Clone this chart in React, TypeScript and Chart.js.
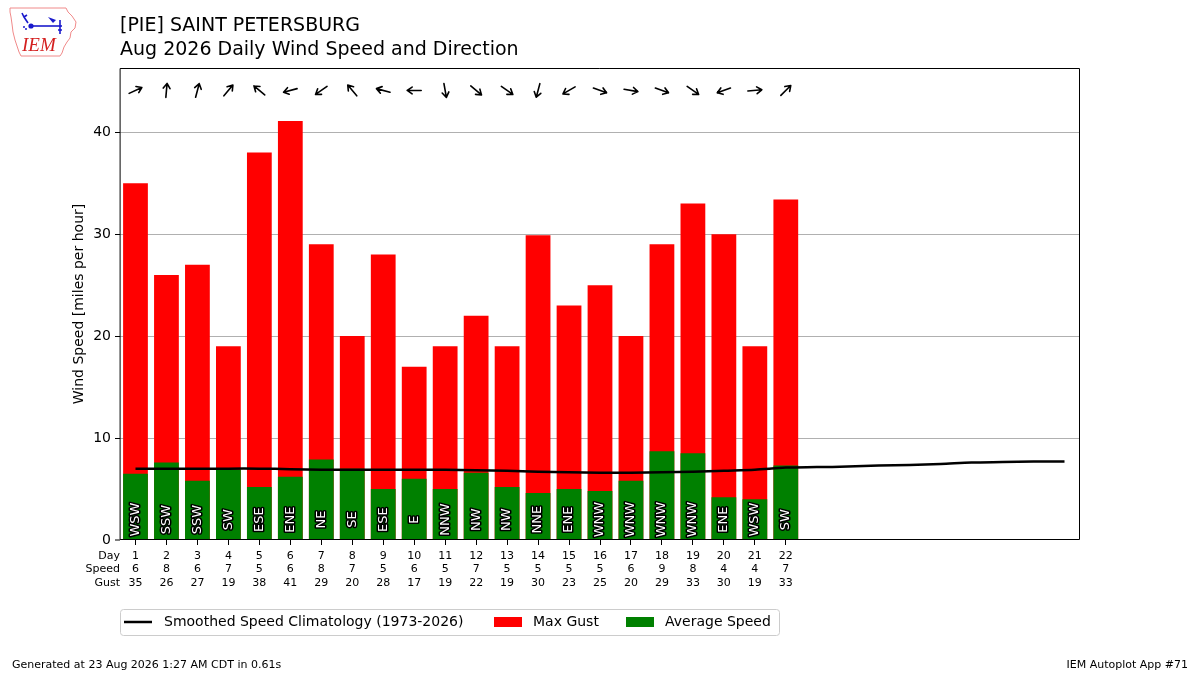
import { useEffect, useRef } from "react";
import { Chart, registerables } from "chart.js";

Chart.register(...registerables);

const FONT = "'DejaVu Sans', 'Liberation Sans', sans-serif";

const days = [1, 2, 3, 4, 5, 6, 7, 8, 9, 10, 11, 12, 13, 14, 15, 16, 17, 18, 19, 20, 21, 22];
const avgSpeed = [6.5, 7.6, 5.8, 6.9, 5.2, 6.2, 7.9, 7.0, 5.0, 6.0, 5.0, 6.6, 5.2, 4.6, 5.0, 4.8, 5.8, 8.7, 8.5, 4.2, 4.0, 7.3];
const maxGust = [35, 26, 27, 19, 38, 41.1, 29, 20, 28, 17, 19, 22, 19, 29.9, 23, 25, 20, 29, 33, 30, 19, 33.4];
const speedLabels = ["6", "8", "6", "7", "5", "6", "8", "7", "5", "6", "5", "7", "5", "5", "5", "5", "6", "9", "8", "4", "4", "7"];
const gustLabels = ["35", "26", "27", "19", "38", "41", "29", "20", "28", "17", "19", "22", "19", "30", "23", "25", "20", "29", "33", "30", "19", "33"];
const dirText = ["WSW", "SSW", "SSW", "SW", "ESE", "ENE", "NE", "SE", "ESE", "E", "NNW", "NW", "NW", "NNE", "ENE", "WNW", "WNW", "WNW", "WNW", "ENE", "WSW", "SW"];
// vector-average direction the wind blew from (degrees, meteorological)
const vecDirFrom = [245, 185, 195, 220, 130, 75, 55, 140, 105, 90, 350, 310, 305, 15, 60, 290, 280, 290, 305, 70, 265, 225];

const climoDays = [1, 2, 3, 4, 5, 6, 7, 8, 9, 10, 11, 12, 13, 14, 15, 16, 17, 18, 19, 20, 21, 22, 23, 24, 25, 26, 27, 28, 29, 30, 31];
const climoSpeed = [7.0, 7.0, 7.0, 7.0, 7.0, 6.95, 6.9, 6.9, 6.9, 6.9, 6.9, 6.85, 6.8, 6.7, 6.65, 6.6, 6.6, 6.65, 6.7, 6.8, 6.9, 7.1, 7.15, 7.2, 7.3, 7.35, 7.45, 7.6, 7.65, 7.7, 7.7];

const rowLabels = ["Day", "Speed", "Gust"];
const titleLines = ["[PIE] SAINT PETERSBURG", "Aug 2026 Daily Wind Speed and Direction"];
const yTitle = "Wind Speed [miles per hour]";
const footerLeft = "Generated at 23 Aug 2026 1:27 AM CDT in 0.61s";
const footerRight = "IEM Autoplot App #71";
const legendItems = [
  { label: "Smoothed Speed Climatology (1973-2026)", kind: "line", color: "#000000" },
  { label: "Max Gust", kind: "box", color: "#ff0000" },
  { label: "Average Speed", kind: "box", color: "#008000" },
];

const TICK_LH = 13.6;
const TICK_PAD = 4;
const TICK_LEN = 5;

function drawLogo(ctx: CanvasRenderingContext2D) {
  ctx.save();
  const pts = [
    [10, 8], [66, 8], [68, 12], [72, 16], [76, 22], [75, 28], [71, 32], [70, 38], [67, 42],
    [64, 47], [62, 53], [60, 56], [21, 56], [19, 52], [17, 46], [15, 40], [13, 32], [12, 24], [11, 17], [10, 12],
  ];
  ctx.beginPath();
  pts.forEach(([px, py], i) => (i === 0 ? ctx.moveTo(px, py) : ctx.lineTo(px, py)));
  ctx.closePath();
  ctx.strokeStyle = "#f08a8a";
  ctx.lineWidth = 1;
  ctx.stroke();
  ctx.strokeStyle = "#1a1acc";
  ctx.fillStyle = "#1a1acc";
  ctx.lineWidth = 1.6;
  ctx.beginPath();
  ctx.moveTo(31, 26);
  ctx.lineTo(62, 26);
  ctx.stroke();
  ctx.beginPath();
  ctx.arc(31, 26, 2.6, 0, Math.PI * 2);
  ctx.fill();
  ctx.beginPath();
  ctx.moveTo(28, 23);
  ctx.lineTo(24, 17);
  ctx.lineTo(22, 13);
  ctx.moveTo(24, 17);
  ctx.lineTo(27, 15);
  ctx.stroke();
  ctx.beginPath();
  ctx.moveTo(48, 17);
  ctx.lineTo(56, 20);
  ctx.lineTo(53, 23);
  ctx.closePath();
  ctx.fill();
  ctx.beginPath();
  ctx.moveTo(60, 20);
  ctx.lineTo(60, 34);
  ctx.moveTo(58, 30);
  ctx.lineTo(62, 30);
  ctx.stroke();
  ctx.beginPath();
  ctx.arc(24, 27, 1, 0, Math.PI * 2);
  ctx.arc(26, 29, 1, 0, Math.PI * 2);
  ctx.fill();
  ctx.fillStyle = "#d42020";
  ctx.font = "italic 19px 'Liberation Serif', 'DejaVu Serif', serif";
  ctx.textBaseline = "alphabetic";
  ctx.textAlign = "left";
  ctx.fillText("IEM", 22, 51);
  ctx.restore();
}

const overlayPlugin = {
  id: "overlay",
  afterDatasetsDraw(chart: any) {
    const { ctx, chartArea } = chart;
    const xs = chart.scales.x;
    const ys = chart.scales.y;
    ctx.save();
    ctx.font = `13px ${FONT}`;
    ctx.textAlign = "center";
    ctx.textBaseline = "middle";
    ctx.lineJoin = "round";
    days.forEach((d, i) => {
      const px = xs.getPixelForValue(d);
      const py = ys.getPixelForValue(2);
      ctx.save();
      ctx.translate(px, py);
      ctx.rotate(-Math.PI / 2);
      ctx.strokeStyle = "#000000";
      ctx.lineWidth = 3;
      ctx.strokeText(dirText[i], 0, 0);
      ctx.fillStyle = "#ffffff";
      ctx.fillText(dirText[i], 0, 0);
      ctx.restore();
    });
    ctx.strokeStyle = "#000000";
    ctx.lineWidth = 1.6;
    ctx.lineCap = "round";
    days.forEach((d, i) => {
      const px = xs.getPixelForValue(d);
      const py = ys.getPixelForValue(44.1);
      const h = ((vecDirFrom[i] + 180) * Math.PI) / 180;
      const dx = Math.sin(h);
      const dy = -Math.cos(h);
      const L = 7;
      const x0 = px - dx * L;
      const y0 = py - dy * L;
      const x1 = px + dx * L;
      const y1 = py + dy * L;
      ctx.beginPath();
      ctx.moveTo(x0, y0);
      ctx.lineTo(x1, y1);
      const ang = Math.atan2(dy, dx);
      const hl = 6;
      const spread = 0.6;
      ctx.moveTo(x1 - hl * Math.cos(ang - spread), y1 - hl * Math.sin(ang - spread));
      ctx.lineTo(x1, y1);
      ctx.lineTo(x1 - hl * Math.cos(ang + spread), y1 - hl * Math.sin(ang + spread));
      ctx.stroke();
    });
    ctx.strokeStyle = "#000000";
    ctx.lineWidth = 1;
    ctx.strokeRect(
      Math.round(chartArea.left) + 0.5,
      Math.round(chartArea.top) + 0.5,
      Math.round(chartArea.right - chartArea.left) - 1,
      Math.round(chartArea.bottom - chartArea.top) - 1
    );
    ctx.restore();
  },
  afterDraw(chart: any) {
    const { ctx, chartArea } = chart;
    ctx.save();
    ctx.fillStyle = "#000000";
    ctx.textAlign = "left";
    ctx.textBaseline = "alphabetic";
    ctx.font = `19px ${FONT}`;
    ctx.fillText(titleLines[0], 120, 31);
    ctx.fillText(titleLines[1], 120, 55);
    ctx.save();
    ctx.font = `14px ${FONT}`;
    ctx.textAlign = "center";
    ctx.textBaseline = "middle";
    ctx.translate(79, (chartArea.top + chartArea.bottom) / 2);
    ctx.rotate(-Math.PI / 2);
    ctx.fillText(yTitle, 0, 0);
    ctx.restore();
    ctx.font = `11px ${FONT}`;
    ctx.textAlign = "right";
    ctx.textBaseline = "middle";
    rowLabels.forEach((t, k) => {
      const yy = chartArea.bottom + TICK_LEN + TICK_PAD + TICK_LH * (k + 0.5);
      ctx.fillText(t, chartArea.left, yy);
    });
    const lx = 120.5;
    const ly = 609.5;
    const lw = 659;
    const lh = 26;
    const r = 3;
    ctx.beginPath();
    ctx.moveTo(lx + r, ly);
    ctx.lineTo(lx + lw - r, ly);
    ctx.quadraticCurveTo(lx + lw, ly, lx + lw, ly + r);
    ctx.lineTo(lx + lw, ly + lh - r);
    ctx.quadraticCurveTo(lx + lw, ly + lh, lx + lw - r, ly + lh);
    ctx.lineTo(lx + r, ly + lh);
    ctx.quadraticCurveTo(lx, ly + lh, lx, ly + lh - r);
    ctx.lineTo(lx, ly + r);
    ctx.quadraticCurveTo(lx, ly, lx + r, ly);
    ctx.closePath();
    ctx.fillStyle = "#ffffff";
    ctx.fill();
    ctx.strokeStyle = "#cccccc";
    ctx.lineWidth = 1;
    ctx.stroke();
    const cy = 622;
    const keyX = [124, 494, 626];
    const textX = [164, 533, 665];
    ctx.font = `14px ${FONT}`;
    ctx.textAlign = "left";
    ctx.textBaseline = "middle";
    legendItems.forEach((it, i) => {
      if (it.kind === "line") {
        ctx.strokeStyle = it.color;
        ctx.lineWidth = 2.5;
        ctx.beginPath();
        ctx.moveTo(keyX[i], cy);
        ctx.lineTo(keyX[i] + 28, cy);
        ctx.stroke();
      } else {
        ctx.fillStyle = it.color;
        ctx.fillRect(keyX[i], cy - 5, 28, 10);
      }
      ctx.fillStyle = "#000000";
      ctx.fillText(it.label, textX[i], cy);
    });
    ctx.font = `11px ${FONT}`;
    ctx.fillStyle = "#000000";
    ctx.textBaseline = "middle";
    ctx.textAlign = "left";
    ctx.fillText(footerLeft, 12, 665);
    ctx.textAlign = "right";
    ctx.fillText(footerRight, 1188, 665);
    ctx.restore();
    drawLogo(ctx);
  },
};

export default function App() {
  const ref = useRef<HTMLCanvasElement | null>(null);
  useEffect(() => {
    document.body.style.margin = "0";
    const canvas = ref.current;
    if (!canvas) return;
    const chart = new Chart(canvas, {
      type: "bar",
      data: {
        datasets: [
          {
            type: "line",
            label: legendItems[0].label,
            data: climoDays.map((d, i) => ({ x: d, y: climoSpeed[i] })),
            borderColor: "#000000",
            borderWidth: 2.5,
            pointRadius: 0,
            tension: 0.3,
          } as any,
          {
            type: "bar",
            label: legendItems[2].label,
            data: days.map((d, i) => ({ x: d, y: avgSpeed[i] })),
            backgroundColor: "#008000",
            grouped: false,
            categoryPercentage: 1,
            barPercentage: 0.8,
          },
          {
            type: "bar",
            label: legendItems[1].label,
            data: days.map((d, i) => ({ x: d, y: maxGust[i] })),
            backgroundColor: "#ff0000",
            grouped: false,
            categoryPercentage: 1,
            barPercentage: 0.8,
          },
        ],
      },
      options: {
        animation: false,
        responsive: true,
        maintainAspectRatio: false,
        devicePixelRatio: 1,
        layout: { padding: { left: 0, top: 68, right: 120, bottom: 0 } },
        plugins: { legend: { display: false }, tooltip: { enabled: false }, title: { display: false } },
        scales: {
          x: {
            type: "linear",
            offset: false,
            min: 0.5,
            max: 31.5,
            afterBuildTicks: (s: any) => {
              s.ticks = days.map((v) => ({ value: v }));
            },
            afterFit: (s: any) => {
              s.height = 135;
            },
            ticks: {
              autoSkip: false,
              maxRotation: 0,
              color: "#000000",
              padding: TICK_PAD,
              font: { family: FONT, size: 11, lineHeight: TICK_LH / 11 },
              callback: (_v: any, i: number) => [String(days[i]), speedLabels[i], gustLabels[i]],
            },
            grid: { offset: false, drawOnChartArea: false, drawTicks: true, tickLength: TICK_LEN, tickColor: "#000000", tickWidth: 1 },
            border: { display: false },
          },
          y: {
            min: 0,
            max: 46.3,
            afterFit: (s: any) => {
              s.width = 120;
            },
            ticks: {
              stepSize: 10,
              includeBounds: false,
              color: "#000000",
              padding: 4,
              font: { family: FONT, size: 14 },
            },
            grid: {
              color: "#b0b0b0",
              lineWidth: (c: any) => (c.tick && c.tick.value === 0 ? 0 : 1),
              tickLength: TICK_LEN,
              tickColor: "#000000",
              tickWidth: 1,
            },
            border: { display: false },
          },
        },
      },
      plugins: [overlayPlugin],
    });
    return () => chart.destroy();
  }, []);
  return (
    <div style={{ position: "absolute", left: 0, top: 0, width: 1200, height: 675, background: "#ffffff" }}>
      <canvas ref={ref} />
    </div>
  );
}
